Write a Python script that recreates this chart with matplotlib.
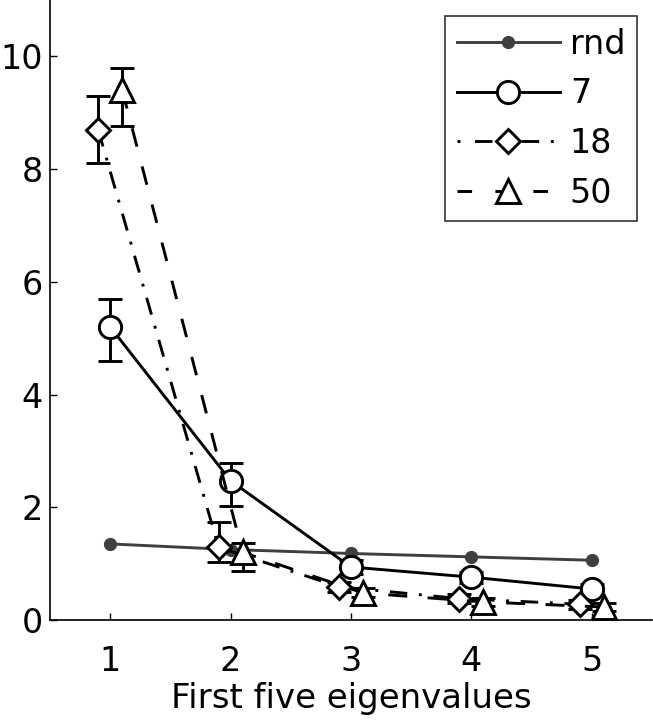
import numpy as np
import matplotlib
matplotlib.use("Agg")
import matplotlib.pyplot as plt
from matplotlib.lines import Line2D

plt.rcParams['font.family'] = ['DejaVu Sans']

eig = np.array([1, 2, 3, 4, 5])

rnd = [1.35, 1.25, 1.18, 1.12, 1.06]

m7 = [5.2, 2.47, 0.94, 0.76, 0.55]
m7_lo = [4.6, 2.02, 0.82, 0.66, 0.47]
m7_hi = [5.7, 2.78, 1.06, 0.86, 0.63]

m18 = [8.7, 1.29, 0.59, 0.38, 0.28]
m18_lo = [8.1, 1.03, 0.50, 0.30, 0.20]
m18_hi = [9.3, 1.73, 0.68, 0.46, 0.36]

m50 = [9.4, 1.2, 0.48, 0.32, 0.23]
m50_lo = [8.76, 0.87, 0.40, 0.25, 0.16]
m50_hi = [9.79, 1.36, 0.56, 0.39, 0.30]

labels = ['rnd', '7', '18', '50']


def yerr(m, lo, hi):
    m, lo, hi = map(np.asarray, (m, lo, hi))
    return np.vstack([m - lo, hi - m])


fig = plt.figure(figsize=(6.53, 7.2), dpi=100)
ax = fig.add_axes([50 / 653, 100 / 720, 602 / 653, 620 / 720])

lw = 2.1
gray = '#3f3f3f'
dashdot = (0, (6, 4, 1, 4))
dashed = (0, (6.5, 7))
eb = dict(color='black', lw=lw, mfc='white', mew=lw, capsize=8.5,
          capthick=lw, elinewidth=lw, zorder=3)

ax.plot(eig, rnd, '-o', color=gray, lw=lw, ms=8.5, zorder=2)
ax.errorbar(eig, m7, yerr=yerr(m7, m7_lo, m7_hi), fmt='-o', ms=16, **eb)
ax.errorbar(eig - 0.1, m18, yerr=yerr(m18, m18_lo, m18_hi), fmt='D', ls=dashdot,
            ms=12, **eb)
ax.errorbar(eig + 0.1, m50, yerr=yerr(m50, m50_lo, m50_hi), fmt='^', ls=dashed,
            ms=17, **eb)

ax.set_xlim(0.5, 5.5)
ax.set_ylim(0, 11)
ax.set_xticks(eig)
ax.set_yticks([0, 2, 4, 6, 8, 10])
ax.tick_params(direction='in', length=5, width=1, labelsize=24)
ax.tick_params(axis='y', pad=5)
ax.tick_params(axis='x', pad=18)
for s in ('top', 'right'):
    ax.spines[s].set_visible(False)
for s in ('left', 'bottom'):
    ax.spines[s].set_linewidth(1.2)
ax.set_xlabel('First five eigenvalues', fontsize=24.5, labelpad=3)

handles = [
    Line2D([], [], color=gray, lw=lw, marker='o', ms=8.5),
    Line2D([], [], color='black', lw=lw, marker='o', ms=16, mfc='white', mew=lw),
    Line2D([], [], color='black', lw=lw, ls=(0, (1, 5, 6, 4)), marker='D', ms=12,
           mfc='white', mew=lw),
    Line2D([], [], color='black', lw=lw, ls=(0, (5, 8)), marker='^', ms=17,
           mfc='white', mew=lw),
]
leg = ax.legend(handles, labels, loc='upper right', fontsize=24, frameon=True,
                fancybox=False, edgecolor='black', handlelength=3.1, borderpad=0.35,
                labelspacing=0.5, handletextpad=0.3, borderaxespad=0,
                bbox_to_anchor=(587 / 602, 1 - 16 / 620))
leg.get_frame().set_linewidth(1.2)

fig.savefig('out.png', dpi=100)
